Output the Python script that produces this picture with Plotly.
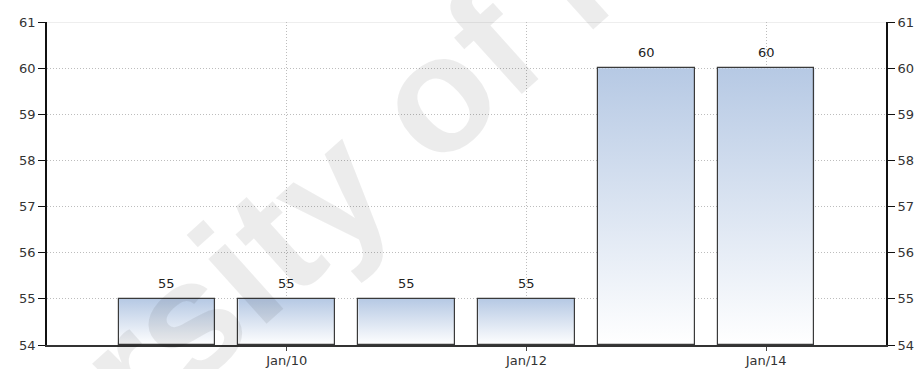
import plotly.graph_objects as go

# Annual values, one bar per year (plotted at January of each year)
years = [2009, 2010, 2011, 2012, 2013, 2014]
values = [55, 55, 55, 55, 60, 60]
tick_years = [2010, 2012, 2014]
tick_labels = ["Jan/10", "Jan/12", "Jan/14"]
y_ticks = [54, 55, 56, 57, 58, 59, 60, 61]

BAR_W = 0.805
Y_MIN, Y_MAX = 54, 61
FONT = "DejaVu Sans"
TEXT_C = "#333333"
GRID_C = "#bdbdbd"

fig = go.Figure()

# gradient fill of each bar (white at the base, soft blue at the top)
for yr, v in zip(years, values):
    x0, x1 = yr - BAR_W / 2, yr + BAR_W / 2
    fig.add_trace(go.Scatter(
        x=[x0, x1, x1, x0, x0], y=[Y_MIN, Y_MIN, v, v, Y_MIN],
        mode="lines", fill="toself", line=dict(width=0),
        fillgradient=dict(type="vertical",
                          colorscale=[[0, "#ffffff"], [1, "#b6c9e4"]]),
        hoverinfo="skip", showlegend=False, xaxis="x", yaxis="y",
    ))

# bar outlines, on the overlaid right-hand axis so they sit above the fills
fig.add_trace(go.Bar(
    x=years, y=[v - Y_MIN for v in values], base=Y_MIN, width=BAR_W,
    marker=dict(color="rgba(0,0,0,0)", line=dict(color="#3a3a3a", width=1.2)),
    cliponaxis=False, showlegend=False, hoverinfo="skip",
    xaxis="x", yaxis="y2",
))

# value labels above each bar
value_labels = [dict(
    x=yr, y=v, xref="x", yref="y", text=str(v), showarrow=False,
    xanchor="center", yanchor="bottom", yshift=6,
    font=dict(family=FONT, size=13, color="#222222"),
) for yr, v in zip(years, values)]

# faint diagonal watermark across the chart
watermark = dict(
    text="University of Malaya", xref="paper", yref="paper",
    x=0.377, y=0.573, xanchor="center", yanchor="middle",
    textangle=-42, showarrow=False,
    font=dict(family="Liberation Sans", size=165,
              color="rgba(0,0,0,0.075)", weight="bold"),
)

axis_common = dict(
    range=[Y_MIN, Y_MAX], tickmode="array", tickvals=y_ticks,
    ticks="outside", ticklen=7, tickcolor="#111111", tickwidth=1.3,
    showline=True, linecolor="#111111", linewidth=1.6,
    tickfont=dict(family=FONT, size=13, color=TEXT_C),
    zeroline=False, fixedrange=True, automargin=False,
)

fig.update_layout(
    width=918, height=369,
    margin=dict(l=47, r=32, t=22, b=24),
    plot_bgcolor="white", paper_bgcolor="white",
    bargap=0,
    xaxis=dict(
        range=[2008, 2015], tickmode="array", tickvals=tick_years,
        ticktext=tick_labels, ticks="outside", ticklen=4,
        tickcolor="#444444", showline=True, linecolor="#333333",
        linewidth=1.6, showgrid=True, gridcolor=GRID_C, griddash="1px,2px",
        gridwidth=1, zeroline=False, automargin=False,
        ticklabelstandoff=-1,
        tickfont=dict(family=FONT, size=13, color=TEXT_C),
    ),
    yaxis=dict(**axis_common, side="left", showgrid=True,
               gridcolor=GRID_C, griddash="1px,2px", gridwidth=1),
    yaxis2=dict(**axis_common, side="right", overlaying="y",
                showgrid=False),
    annotations=value_labels + [watermark],
)

# light solid rule along the top edge of the plotting area
fig.add_shape(type="line", xref="paper", yref="y", x0=0, x1=1,
              y0=Y_MAX, y1=Y_MAX, line=dict(color="#dddddd", width=1),
              layer="below")

fig.write_html("out.html")
